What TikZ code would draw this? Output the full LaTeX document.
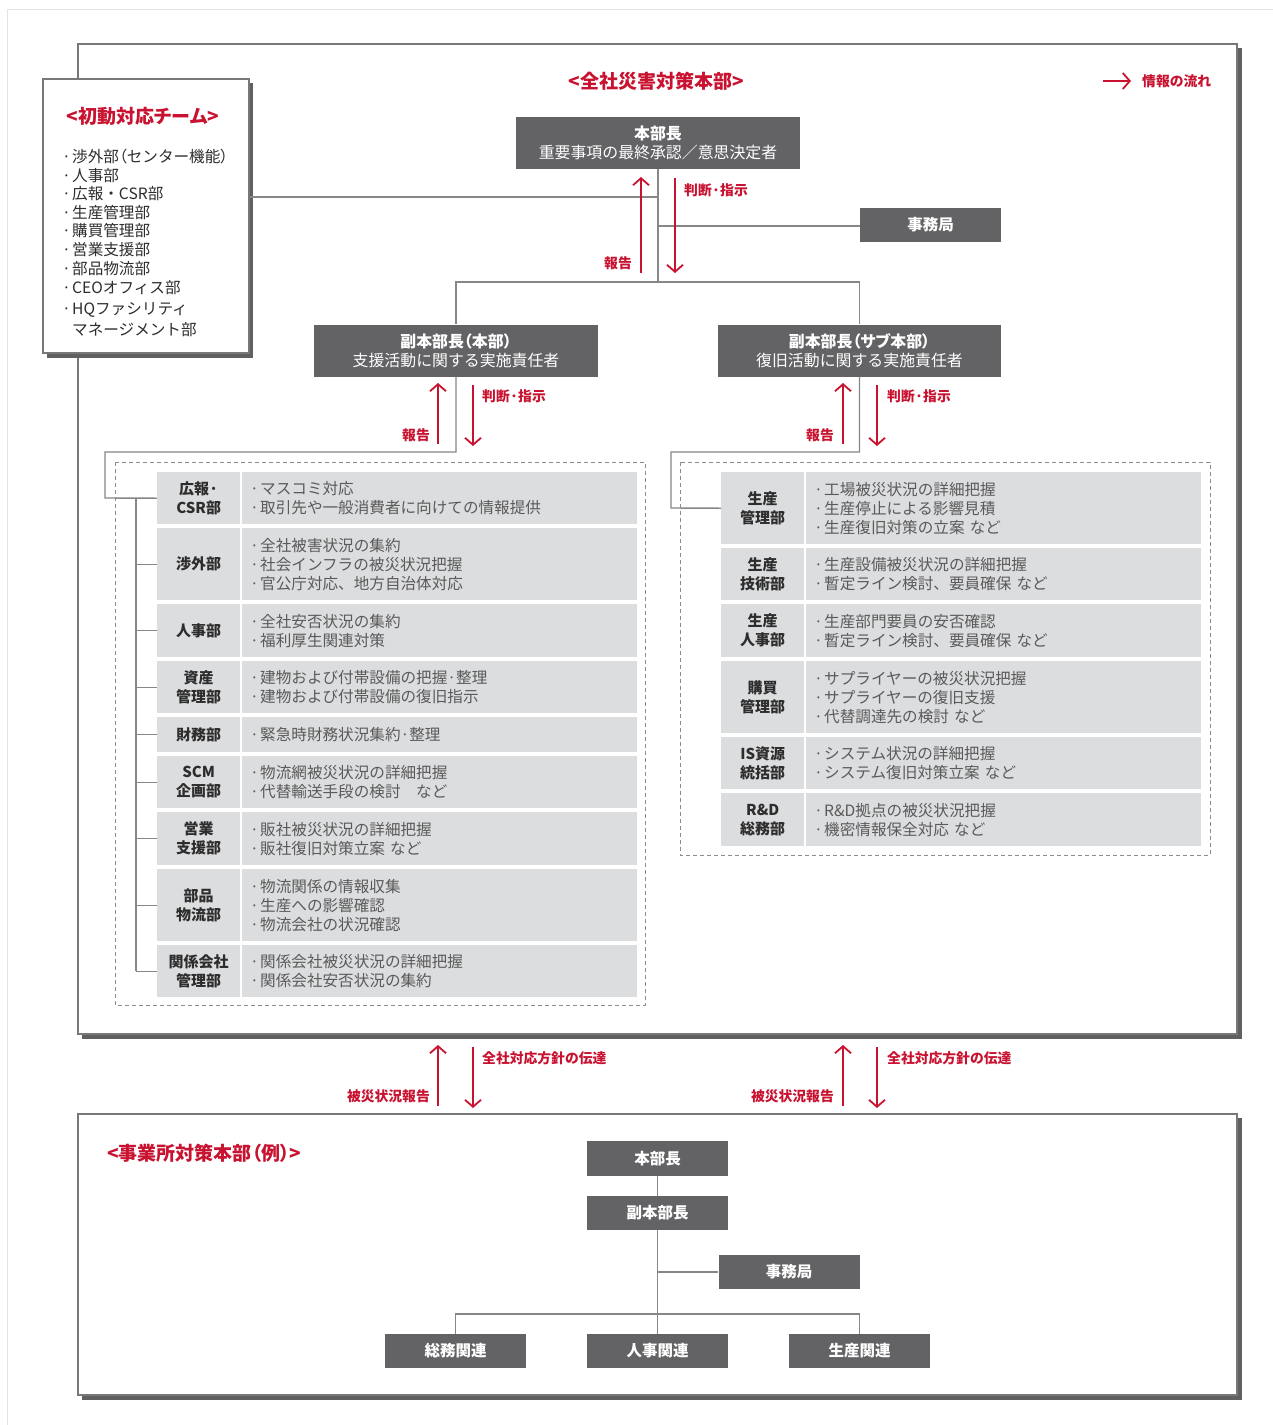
\documentclass[tikz,border=0pt]{standalone}
\usepackage{fontspec}
\setmainfont{Noto Sans CJK JP}
\usetikzlibrary{arrows.meta}
\definecolor{accred}{RGB}{200,18,48}
\definecolor{boxgray}{RGB}{99,99,102}
\definecolor{cellgray}{RGB}{220,221,223}
\definecolor{linegray}{RGB}{135,135,135}
\definecolor{labtxt}{RGB}{45,45,45}
\definecolor{bodytxt}{RGB}{90,90,90}
\definecolor{framegray}{RGB}{120,120,120}
\definecolor{shadowgray}{RGB}{96,96,98}
\definecolor{pagegray}{RGB}{228,228,228}
\definecolor{dashgray}{RGB}{140,140,140}

\newcommand\bl{\makebox[10pt][l]{·}}
\newcommand\palton{\addfontfeatures{RawFeature=+palt}}
\newcommand\trow[6]{%
  \node[lab, minimum height=#4pt] (#1l) at (#2,#3) {#5};
  \node[cont, minimum height=#4pt] (#1c) at (#2+85,#3) {#6};}

\tikzset{
  dbox/.style={fill=boxgray, text=white, inner sep=0, align=center},
  conn/.style={draw=linegray, line width=1.4pt},
  flow/.style={draw=accred, line width=1.8pt, -{Straight Barb[length=7pt,width=16pt,line width=1.8pt]}},
  flab/.style={text=accred, font=\bfseries\fontsize{13.8}{16}\selectfont, inner sep=0},
  ttl/.style={text=accred, font=\bfseries\fontsize{19}{22}\selectfont\palton, inner sep=0},
  lab/.style={fill=cellgray, text=labtxt, font=\bfseries\fontsize{15}{19}\selectfont, align=center, inner sep=0, anchor=north west, minimum width=83pt},
  cont/.style={fill=cellgray, text=bodytxt, font=\fontsize{15.6}{19}\selectfont, align=left, inner xsep=8pt, inner ysep=0pt, anchor=north west, text width=379pt},
  lst/.style={text=labtxt, font=\fontsize{15.6}{19}\selectfont, inner sep=0, anchor=west},
  dbox1/.style={dbox, minimum width=141pt, minimum height=34pt, font=\bfseries\fontsize{15.5}{19}\selectfont},
  dbox2/.style={dbox, minimum height=52pt, font=\fontsize{15.9}{19}\selectfont},
  dashbox/.style={draw=dashgray, line width=1pt, dash pattern=on 4pt off 3pt},
}

\begin{document}
\begin{tikzpicture}[x=1pt,y=-1pt]
\useasboundingbox (0,0) rectangle (1273,1425);
\draw[pagegray, line width=1pt] (7,1425) -- (7,9) -- (1273,9);

% main frames
\fill[shadowgray] (82,48) rectangle (1241.5,1038.5);
\draw[framegray, line width=1.4pt, fill=white] (78,44) rectangle (1237,1034);
\fill[shadowgray] (82,1118) rectangle (1241.5,1399.5);
\draw[framegray, line width=1.4pt, fill=white] (78,1114) rectangle (1237,1395);

% titles and legend
\node[ttl] (t1) at (656,81) {<全社災害対策本部>};
\coordinate (lgA) at (1103,81);
\coordinate (lgB) at (1131,81);
\draw[flow] (lgA) -- (lgB);
\node[flab, anchor=west] (lgT) at (1142,81) {情報の流れ};

% top HQ
\node[dbox2, minimum width=284pt] (hq) at (658,143) {\textbf{本部長}\\重要事項の最終承認／意思決定者};
\node[dbox1] (jimu) at (930.5,225) {事務局};
\node[dbox2, minimum width=284pt] (viceL) at (456,350.5) {\textbf{\palton 副本部長（本部）}\\支援活動に関する実施責任者};
\node[dbox2, minimum width=283pt] (viceR) at (859.5,350.5) {\textbf{\palton 副本部長（サブ本部）}\\復旧活動に関する実施責任者};

\coordinate (jA) at (658,197);
\coordinate (jB) at (658,226);
\coordinate (br) at (658,282);
\draw[conn] (hq.south) -- (br);
\draw[conn] (viceL.north) |- (br) -| (viceR.north);
\draw[conn] (jB) -- (jimu.west |- jB);

% initial team box
\fill[shadowgray] (47,83) rectangle (253,357.5);
\node[draw=framegray, line width=1.4pt, fill=white, minimum width=206pt, minimum height=274pt, inner sep=0] (init) at (146,216) {};
\draw[conn] (init.east |- jA) -- (jA);
\node[ttl] (t2) at (143,116) {<初動対応チーム>};
\node[lst] (li1) at (62,157) {\bl 渉外部{\palton （}センター機能{\palton ）}};
\node[lst] (li2) at (62,175.5) {\bl 人事部};
\node[lst] (li3) at (62,194) {\bl 広報・CSR部};
\node[lst] (li4) at (62,212.5) {\bl 生産管理部};
\node[lst] (li5) at (62,231) {\bl 購買管理部};
\node[lst] (li6) at (62,250) {\bl 営業支援部};
\node[lst] (li7) at (62,268.5) {\bl 部品物流部};
\node[lst] (li8) at (62,287.5) {\bl CEOオフィス部};
\node[lst] (li9) at (62,309.5) {\bl HQファシリティ};
\node[lst] (li10) at (72,330) {マネージメント部};

% arrows top
\coordinate (a1s) at (641,273); \coordinate (a1e) at (641,177);
\coordinate (a2s) at (675,178); \coordinate (a2e) at (675,273);
\draw[flow] (a1s) -- (a1e);
\draw[flow] (a2s) -- (a2e);
\node[flab, anchor=west] (f1) at (684,190) {判断·指示};
\node[flab, anchor=east] (f2) at (632,263) {報告};

% arrows vice
\coordinate (b1s) at (438,444); \coordinate (b1e) at (438,383);
\coordinate (b2s) at (473,385); \coordinate (b2e) at (473,446);
\draw[flow] (b1s) -- (b1e);
\draw[flow] (b2s) -- (b2e);
\node[flab, anchor=west] (f3) at (482,396) {判断·指示};
\node[flab, anchor=east] (f4) at (430,435) {報告};
\coordinate (c1s) at (843,444); \coordinate (c1e) at (843,383);
\coordinate (c2s) at (877,385); \coordinate (c2e) at (877,446);
\draw[flow] (c1s) -- (c1e);
\draw[flow] (c2s) -- (c2e);
\node[flab, anchor=west] (f5) at (887,396) {判断·指示};
\node[flab, anchor=east] (f6) at (834,435) {報告};

% left table
\draw[dashbox] (115,462) rectangle (645,1005);
\trow{r1}{157}{472}{52}{広報·\\CSR部}{\bl マスコミ対応\\\bl 取引先や一般消費者に向けての情報提供}
\trow{r2}{157}{528}{72}{渉外部}{\bl 全社被害状況の集約\\\bl 社会インフラの被災状況把握\\\bl 官公庁対応、地方自治体対応}
\trow{r3}{157}{604}{53}{人事部}{\bl 全社安否状況の集約\\\bl 福利厚生関連対策}
\trow{r4}{157}{661}{52}{資産\\管理部}{\bl 建物および付帯設備の把握·整理\\\bl 建物および付帯設備の復旧指示}
\trow{r5}{157}{717}{35}{財務部}{\bl 緊急時財務状況集約·整理}
\trow{r6}{157}{756}{52}{SCM\\企画部}{\bl 物流網被災状況の詳細把握\\\bl 代替輸送手段の検討　など}
\trow{r7}{157}{812}{53}{営業\\支援部}{\bl 販社被災状況の詳細把握\\\bl 販社復旧対策立案 など}
\trow{r8}{157}{869}{72}{部品\\物流部}{\bl 物流関係の情報収集\\\bl 生産への影響確認\\\bl 物流会社の状況確認}
\trow{r9}{157}{945}{52}{関係会社\\管理部}{\bl 関係会社被災状況の詳細把握\\\bl 関係会社安否状況の集約}

\coordinate (tl) at (136,498);
\draw[conn] (viceL.south) -- (456,452) -- (105,452) -- (105,498) -- (r1l.west);
\draw[conn] (tl) -- (r9l.west -| tl);
\foreach \r in {r2,r3,r4,r5,r6,r7,r8,r9} {
  \draw[conn] (\r l.west -| tl) -- (\r l.west);
}

% right table
\draw[dashbox] (680,462) rectangle (1210,855);
\trow{q1}{721}{472}{72}{生産\\管理部}{\bl 工場被災状況の詳細把握\\\bl 生産停止による影響見積\\\bl 生産復旧対策の立案 など}
\trow{q2}{721}{548}{52}{生産\\技術部}{\bl 生産設備被災状況の詳細把握\\\bl 暫定ライン検討、要員確保 など}
\trow{q3}{721}{604}{53}{生産\\人事部}{\bl 生産部門要員の安否確認\\\bl 暫定ライン検討、要員確保 など}
\trow{q4}{721}{661}{72}{購買\\管理部}{\bl サプライヤーの被災状況把握\\\bl サプライヤーの復旧支援\\\bl 代替調達先の検討 など}
\trow{q5}{721}{737}{52}{IS資源\\統括部}{\bl システム状況の詳細把握\\\bl システム復旧対策立案 など}
\trow{q6}{721}{793}{53}{R\&D\\総務部}{\bl R\&D拠点の被災状況把握\\\bl 機密情報保全対応 など}
\draw[conn] (viceR.south) -- (859.5,452) -- (671,452) -- (671,508) -- (q1l.west);

% arrows between frames
\coordinate (d1s) at (438,1106); \coordinate (d1e) at (438,1045);
\coordinate (d2s) at (473,1047); \coordinate (d2e) at (473,1108);
\draw[flow] (d1s) -- (d1e);
\draw[flow] (d2s) -- (d2e);
\node[flab, anchor=west] (g1) at (482,1058) {全社対応方針の伝達};
\node[flab, anchor=east] (g2) at (430,1096) {被災状況報告};
\coordinate (e1s) at (843,1106); \coordinate (e1e) at (843,1045);
\coordinate (e2s) at (877,1047); \coordinate (e2e) at (877,1108);
\draw[flow] (e1s) -- (e1e);
\draw[flow] (e2s) -- (e2e);
\node[flab, anchor=west] (g3) at (887,1058) {全社対応方針の伝達};
\node[flab, anchor=east] (g4) at (834,1096) {被災状況報告};

% bottom frame
\node[ttl, anchor=west] (t3) at (107,1153) {<事業所対策本部（例）>};
\node[dbox1, minimum height=35pt] (bb1) at (657.5,1158.5) {本部長};
\node[dbox1] (bb2) at (657.5,1213) {副本部長};
\node[dbox1] (bbj) at (789,1272) {事務局};
\node[dbox1] (s1) at (455.5,1351) {総務関連};
\node[dbox1] (s2) at (657.5,1351) {人事関連};
\node[dbox1] (s3) at (859.5,1351) {生産関連};
\coordinate (bbr) at (657.5,1314);
\draw[conn] (bb1.south) -- (bb2.north);
\draw[conn] (bb2.south) -- (s2.north);
\draw[conn] (bb2.south |- bbj.west) -- (bbj.west);
\draw[conn] (s1.north) |- (bbr) -| (s3.north);
\end{tikzpicture}
\end{document}
